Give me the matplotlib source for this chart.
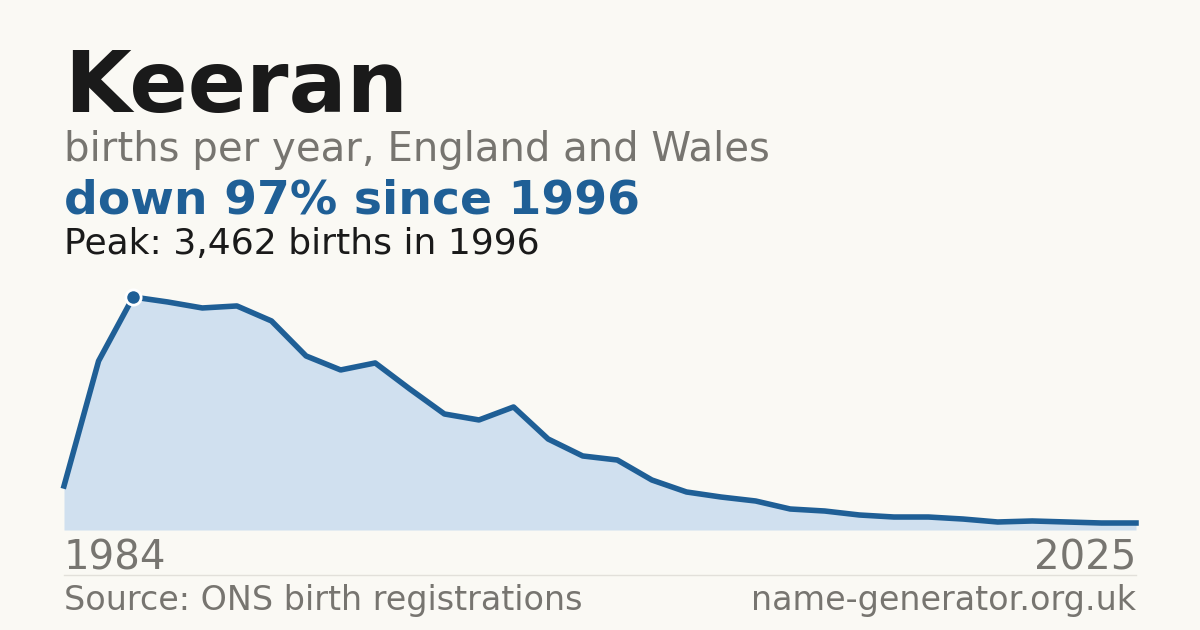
import matplotlib
matplotlib.use("Agg")
import matplotlib.pyplot as plt

years = list(range(1994, 2026))
births = [654, 2511, 3462, 3388, 3299, 3329, 3106, 2586, 2378, 2482, 2095, 1724, 1635, 1828,
          1352, 1100, 1040, 743, 565, 490, 431, 312, 282, 223, 193, 193, 163, 119, 134, 119, 104, 104]
title = "Keeran"
subtitle = "births per year, England and Wales"
headline = "down 97% since 1996"
peak_text = "Peak: 3,462 births in 1996"
left_label, right_label = "1984", "2025"
source = "Source: ONS birth registrations"
site = "name-generator.org.uk"

bg = "#faf9f4"
blue = "#1f5f96"
fig = plt.figure(figsize=(12, 6.3), dpi=100, facecolor=bg)
W, H = 1200, 630
ax = fig.add_axes([64/W, (630-530)/H, 1072/W, 233/H])
ax.set_facecolor(bg)
ax.fill_between(years, births, 0, color="#d0e0ef", lw=0)
ax.plot(years, births, color=blue, lw=4, solid_joinstyle="round", clip_on=False)
pk = births.index(max(births))
ax.plot(years[pk], births[pk], "o", ms=11, color=blue, mec="white", mew=2, clip_on=False, zorder=5)
ax.set_xlim(years[0], years[-1])
ax.set_ylim(0, max(births))
ax.axis("off")

def t(x, y, s, **kw):
    fig.text(x/W, 1-y/H, s, **kw)

t(64, 112, title, fontsize=62, fontweight="bold", color="#1a1a1a", va="baseline")
t(64, 161, subtitle, fontsize=29, color="#777570", va="baseline")
t(64, 214, headline, fontsize=34, fontweight="bold", color=blue, va="baseline")
t(64, 254, peak_text, fontsize=26, color="#1a1a1a", va="baseline")
t(64, 570, left_label, fontsize=29, color="#777570", va="baseline")
t(1136, 570, right_label, fontsize=29, color="#777570", va="baseline", ha="right")
t(64, 610, source, fontsize=24, color="#777570", va="baseline")
t(1136, 610, site, fontsize=24, color="#777570", va="baseline", ha="right")
fig.add_artist(plt.Line2D([64/W, 1136/W], [1-575/H, 1-575/H], color="#e2e0da", lw=1))
fig.savefig("out.png", facecolor=bg)
